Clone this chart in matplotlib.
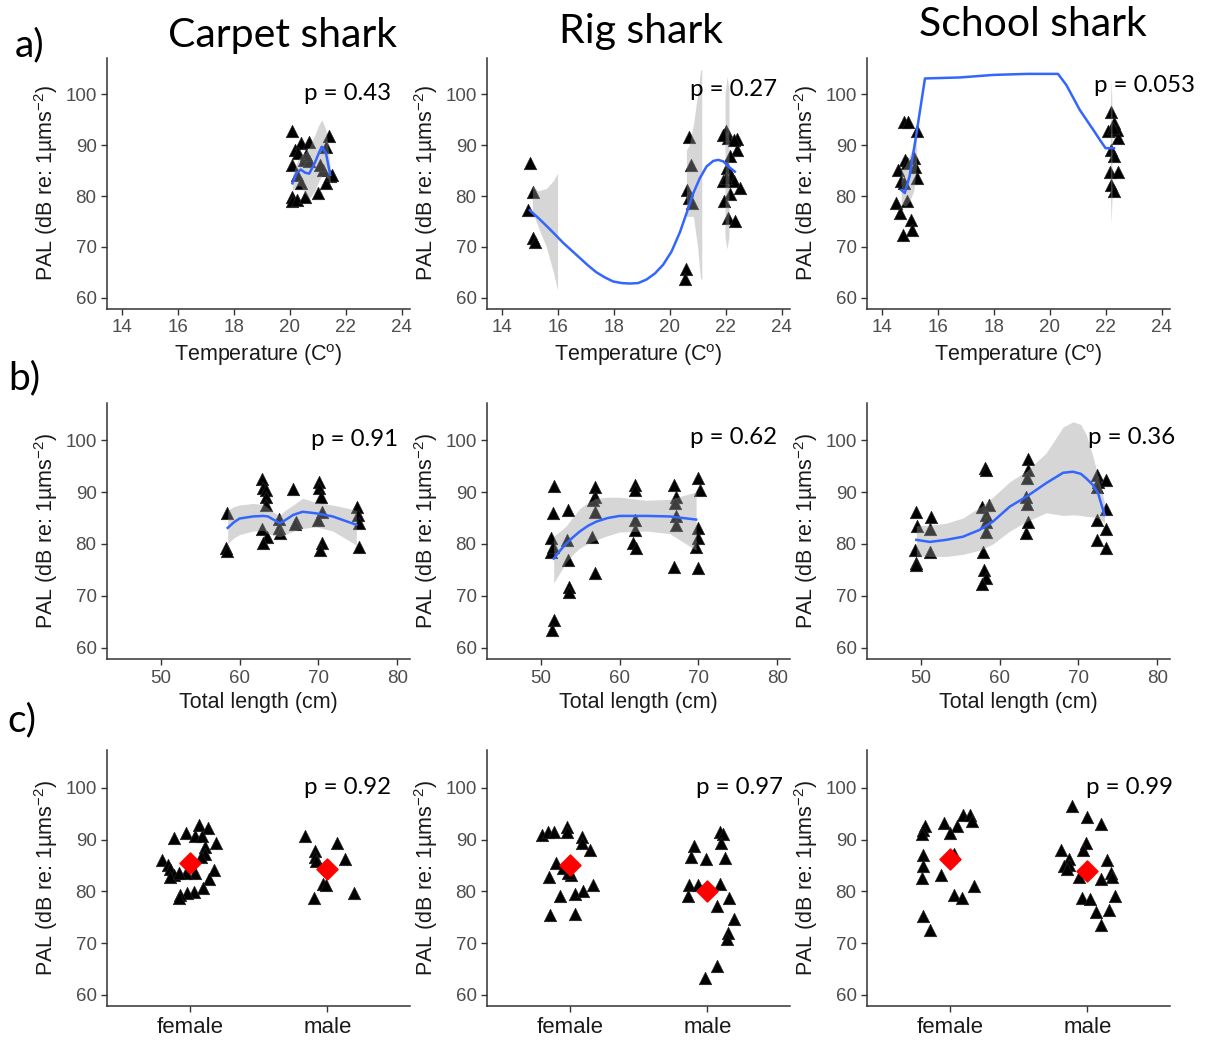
import numpy as np
import matplotlib
matplotlib.use('Agg')
import matplotlib.pyplot as plt

plt.rcParams['font.family'] = ['Liberation Sans', 'DejaVu Sans']
plt.rcParams['mathtext.fontset'] = 'custom'
plt.rcParams['mathtext.rm'] = 'Liberation Sans'
plt.rcParams['mathtext.it'] = 'Liberation Sans:italic'

# ---------------------------------------------------------------- data
species = ['Carpet shark', 'Rig shark', 'School shark']
row_tags = ['a)', 'b)', 'c)']
sex_labels = ['female', 'male']

# row a: PAL vs temperature
carpet_temp_x = [20.07, 20.2, 20.4, 20.7, 20.1, 20.5, 20.7, 20.25, 20.4, 20.1, 20.1, 20.25, 20.55,
                 21.4, 21.3, 21.2, 21.45, 21.3, 21.5, 21.1, 20.6, 20.3, 21.0]
carpet_temp_y = [92.7, 89.1, 90.4, 90.7, 86.1, 87.1, 86.8, 84.2, 82.5, 79.9, 79.0, 79.3, 79.9,
                 91.7, 89.7, 85.2, 83.9, 82.5, 84.2, 86.1, 88.0, 88.5, 80.5]
carpet_temp_fit_x = [20.1, 20.25, 20.4, 20.55, 20.7, 20.9, 21.05, 21.15, 21.3, 21.45]
carpet_temp_fit = [82.5, 84.5, 85.2, 84.6, 84.4, 86.5, 88.5, 89.7, 88.4, 84.2]
carpet_temp_hi = [84.0, 86.5, 88.0, 88.5, 89.5, 92.0, 94.0, 95.0, 93.0, 86.0]
carpet_temp_lo = [81.0, 82.0, 82.0, 80.5, 79.5, 81.0, 83.0, 84.0, 84.0, 82.5]

rig_temp_x = [15.01, 15.13, 14.95, 15.13, 15.2, 20.7, 20.75, 20.63, 20.7, 20.8, 20.6, 20.55,
              22.0, 22.1, 22.4, 22.4, 22.15, 22.05, 22.2, 21.92, 22.3, 22.15, 22.5, 21.95,
              22.1, 22.35, 22.0, 22.3, 21.9]
rig_temp_y = [86.5, 80.7, 77.2, 71.8, 70.9, 91.6, 86.1, 81.2, 79.6, 78.6, 65.7, 63.6,
              92.7, 91.4, 91.2, 89.1, 87.8, 85.5, 83.9, 82.9, 82.9, 80.3, 81.6, 79.0,
              75.7, 75.1, 83.5, 91.0, 91.9]
rig_temp_fit_x = [15.01, 15.31, 15.61, 15.90, 16.20, 16.50, 16.80, 17.10, 17.39, 17.69, 17.99,
                  18.29, 18.58, 18.88, 19.18, 19.48, 19.77, 20.07, 20.37, 20.61, 20.85, 21.08,
                  21.32, 21.56, 21.74, 21.92, 22.10, 22.33]
rig_temp_fit = [77.2, 75.7, 74.1, 72.5, 70.8, 69.3, 67.8, 66.3, 65.0, 64.0, 63.2,
                62.9, 62.8, 62.9, 63.6, 64.8, 66.5, 69.1, 72.9, 76.7, 80.6, 83.5,
                85.8, 86.9, 87.1, 86.8, 85.8, 84.8]
# ribbon is clipped by the y limits, so only three pieces remain
rig_temp_band_x = [[15.1, 15.3, 15.6, 15.85, 16.0],
                   [20.6, 20.7, 20.85, 21.0, 21.1, 21.15],
                   [21.98, 22.05, 22.12]]
rig_temp_band_hi = [[82.0, 81.0, 81.5, 83.0, 84.5],
                    [89.0, 90.0, 94.0, 100.0, 104.5, 105.0],
                    [100.0, 103.5, 101.0]]
rig_temp_band_lo = [[77.0, 74.0, 70.0, 65.0, 61.5],
                    [76.0, 76.0, 76.0, 70.0, 64.0, 63.5],
                    [72.0, 69.6, 72.0]]

school_temp_x = [14.8, 14.95, 15.25, 14.85, 15.15, 14.6, 15.2, 14.7, 15.25, 14.9, 14.5, 14.9,
                 14.65, 15.05, 15.1, 14.75, 14.8,
                 22.2, 22.3, 22.1, 22.4, 22.45, 22.2, 22.3, 22.15, 22.45, 22.2, 22.3, 22.25]
school_temp_y = [94.6, 94.6, 92.7, 87.1, 87.5, 85.2, 85.8, 82.9, 83.5, 86.5, 78.6, 79.0,
                 76.7, 75.2, 73.4, 72.4, 82.5,
                 96.6, 94.3, 92.7, 93.0, 91.4, 89.1, 87.8, 84.8, 84.8, 82.2, 80.9, 93.3]
school_temp_fit_x = [14.7, 14.83, 15.0, 15.25, 15.55, 16.8, 18.0, 19.2, 20.3, 20.6, 21.08,
                     21.56, 21.8, 22.0, 22.3]
school_temp_fit = [81.2, 80.6, 83.9, 92.4, 103.1, 103.3, 103.8, 104.0, 104.0, 101.8, 96.9,
                   93.0, 91.0, 89.4, 89.4]
school_temp_band_x = [[14.7, 14.85, 15.0, 15.15, 15.25], [22.17, 22.2, 22.23]]
school_temp_band_hi = [[85.0, 86.0, 88.0, 90.0, 92.0], [97.0, 103.4, 97.0]]
school_temp_band_lo = [[78.5, 78.0, 79.0, 81.0, 86.0], [80.0, 74.6, 80.0]]

# row b: PAL vs total length
carpet_len_x = [58.45, 58.3, 58.45, 62.85, 63.0, 63.4, 63.3, 63.3, 62.85, 63.5, 63.0, 64.95,
                64.95, 65.1, 66.8, 67.1, 67.0, 70.05, 70.1, 70.3, 70.4, 70.0, 70.5, 70.2,
                74.9, 75.0, 75.1, 75.1]
carpet_len_y = [86.0, 79.2, 78.7, 92.5, 90.7, 90.4, 89.1, 87.5, 82.8, 81.4, 80.1, 84.9,
                83.0, 82.1, 90.5, 84.3, 83.9, 92.0, 90.7, 89.1, 86.2, 84.6, 80.1, 78.8,
                87.2, 85.6, 84.0, 79.5]
carpet_len_fit_x = [58.5, 59.3, 60.0, 61.7, 63.0, 63.6, 64.4, 65.1, 65.8, 66.8, 68.0, 69.7, 71.8, 74.8]
carpet_len_fit = [83.1, 84.2, 84.9, 85.3, 85.4, 85.3, 84.6, 84.0, 84.6, 85.6, 86.2, 85.9, 85.3, 83.7]
carpet_len_hi = [86.5, 87.2, 87.5, 87.8, 87.6, 87.0, 86.0, 85.5, 86.5, 87.5, 88.8, 88.0, 87.5, 86.5]
carpet_len_lo = [80.1, 81.2, 81.8, 82.5, 82.6, 82.0, 81.6, 81.4, 81.8, 82.5, 83.0, 83.3, 82.5, 79.8]

rig_len_x = [51.65, 51.55, 51.35, 51.35, 51.55, 51.65, 51.5, 53.45, 53.3, 53.45, 53.65, 53.6,
             56.85, 56.85, 56.65, 56.85, 56.55, 56.9, 61.9, 61.9, 61.9, 61.9, 61.7, 62.1,
             66.9, 67.1, 67.0, 67.1, 67.1, 66.9, 69.95, 70.15, 69.95, 69.95, 69.75, 69.95]
rig_len_y = [91.2, 85.9, 81.1, 78.5, 79.5, 65.4, 63.5, 86.5, 80.8, 76.9, 71.8, 70.8,
             91.0, 89.1, 88.5, 86.2, 81.4, 74.5, 91.3, 90.4, 84.6, 82.7, 80.1, 79.2,
             91.3, 89.1, 87.8, 85.3, 83.7, 75.6, 92.6, 90.4, 83.0, 81.1, 79.5, 75.3]
rig_len_fit_x = [51.65, 52.5, 53.25, 54.1, 54.95, 56.0, 57.05, 58.5, 60.0, 63.4, 66.35, 69.7]
rig_len_fit = [77.2, 78.8, 80.1, 81.3, 82.4, 83.5, 84.3, 85.0, 85.4, 85.4, 85.3, 84.7]
rig_len_hi = [81.5, 82.5, 83.5, 85.2, 86.8, 88.0, 88.8, 89.0, 89.0, 88.4, 88.6, 90.0]
rig_len_lo = [72.5, 74.6, 76.5, 78.0, 79.2, 80.1, 80.8, 81.6, 82.3, 82.5, 82.0, 78.8]

school_len_x = [49.45, 49.55, 49.25, 49.35, 49.45, 51.35, 51.2, 51.15, 58.1, 58.25, 57.8, 58.65,
                58.3, 58.25, 58.3, 57.9, 58.0, 58.3, 57.8, 63.6, 63.6, 63.5, 63.4, 63.45,
                63.6, 63.4, 72.3, 72.5, 73.55, 72.4, 73.55, 72.4, 73.45, 72.3, 73.55]
school_len_y = [86.2, 83.5, 78.8, 76.3, 76.0, 85.1, 82.8, 78.5, 94.6, 94.2, 87.2, 87.5,
                85.6, 84.3, 82.4, 78.5, 75.0, 73.4, 72.4, 96.3, 94.2, 92.6, 89.1, 87.7,
                84.3, 82.2, 93.3, 92.0, 92.3, 90.9, 86.7, 84.7, 82.8, 80.8, 79.2]
school_len_fit_x = [49.45, 51.15, 53.25, 55.35, 57.45, 59.15, 61.3, 63.4, 65.9, 68.05, 69.3,
                    70.3, 71.0, 71.8, 72.5, 73.3]
school_len_fit = [80.8, 80.4, 80.8, 81.4, 82.7, 84.3, 87.2, 89.1, 91.7, 93.7, 93.9,
                  93.5, 92.6, 91.4, 89.7, 85.6]
school_len_hi = [83.5, 83.6, 84.0, 85.0, 87.0, 89.0, 92.0, 94.0, 97.5, 102.5, 103.5,
                 103.0, 101.0, 97.0, 93.0, 88.0]
school_len_lo = [77.8, 77.6, 77.6, 78.0, 78.8, 80.0, 82.5, 84.3, 86.0, 85.5, 85.6,
                 85.5, 85.3, 85.2, 85.0, 84.0]

# row c: PAL by sex (jittered positions, 1 = female, 2 = male)
carpet_sex_x = [0.80, 0.84, 0.86, 0.89, 0.97, 1.07, 1.13, 1.04, 1.09, 1.19, 1.11, 1.11, 1.08,
                1.18, 1.14, 1.04, 0.97, 0.89, 0.86, 1.10, 1.03, 0.98, 0.93, 0.92, 0.92,
                1.84, 2.07, 1.91, 1.91, 1.92, 2.13, 1.97, 1.99, 1.90, 2.19]
carpet_sex_y = [86.0, 85.1, 84.4, 90.2, 91.3, 92.8, 92.3, 90.7, 90.7, 89.4, 88.5, 87.3, 86.6,
                84.2, 82.3, 83.6, 83.6, 83.2, 82.8, 80.6, 79.9, 79.7, 79.3, 78.8, 83.5,
                90.7, 89.4, 87.7, 86.7, 85.9, 86.2, 81.5, 81.2, 78.8, 79.6]
carpet_sex_mean = [85.4, 84.4]

rig_sex_x = [0.80, 0.84, 0.89, 0.98, 0.98, 1.09, 1.09, 1.15, 0.90, 0.95, 1.01, 0.85, 0.93,
             1.04, 1.10, 1.17, 0.86, 1.04, 0.99,
             1.90, 1.88, 1.99, 2.09, 2.11, 2.10, 2.13, 1.87, 1.93, 2.09, 1.86, 2.07, 2.16,
             2.19, 2.15, 2.14, 2.07, 1.98]
rig_sex_y = [90.9, 91.5, 91.5, 92.5, 91.5, 90.4, 89.4, 88.0, 85.4, 84.6, 83.2, 82.8, 79.1,
             79.5, 80.1, 81.2, 75.4, 75.6, 83.5,
             88.7, 86.7, 86.2, 91.5, 91.1, 89.4, 86.4, 81.2, 81.2, 81.5, 79.1, 77.2, 78.8,
             74.6, 72.0, 70.8, 65.6, 63.3]
rig_sex_mean = [85.1, 80.1]

school_sex_x = [0.82, 0.81, 0.80, 0.96, 1.05, 1.00, 1.10, 1.15, 1.16, 0.81, 0.81, 0.80, 1.03,
                0.94, 1.03, 1.09, 1.18, 0.81, 0.86,
                1.89, 2.00, 2.10, 1.99, 1.97, 1.81, 1.87, 1.83, 1.87, 2.14, 1.94, 2.10, 2.17,
                2.18, 1.96, 2.02, 2.20, 2.06, 2.16, 2.10, 1.85]
school_sex_y = [92.6, 91.8, 91.0, 93.2, 92.6, 91.2, 94.7, 94.7, 93.6, 87.0, 84.8, 82.5, 87.2,
                83.2, 79.3, 78.8, 81.0, 75.3, 72.5,
                96.5, 94.4, 93.0, 89.4, 88.0, 88.0, 86.2, 84.8, 85.1, 86.0, 82.7, 82.3, 83.5,
                82.7, 78.8, 78.6, 79.1, 76.1, 76.4, 73.5, 84.4]
school_sex_mean = [86.2, 84.0]

p_values = [['p = 0.43', 'p = 0.27', 'p = 0.053'],
            ['p = 0.91', 'p = 0.62', 'p = 0.36'],
            ['p = 0.92', 'p = 0.97', 'p = 0.99']]

# ---------------------------------------------------------------- layout (pixels)
W, H = 1205, 1041
col_left = [107, 487, 867]
col_width = 303
row_top = [57.6, 402.6, 750.4]
row_bottom = [309, 659.4, 1006.4]
p_pos = [[(348, 93), (734, 90), (1144, 86)],
         [(355, 440), (734, 438), (1132, 438)],
         [(348, 788), (739, 788), (1129, 788)]]
title_pos = [(283, 36), (641, 31), (1033, 25)]
tag_pos = [(30, 45), (24, 378), (22, 720)]

BLUE = '#3366FF'
YLAB = 'PAL (dB re: 1µms$^{-2}$)'


# =================================================================================================
def style_axes(ax):
    for side in ['top', 'right']:
        ax.spines[side].set_visible(False)
    for side in ['left', 'bottom']:
        ax.spines[side].set_color('#333333')
        ax.spines[side].set_linewidth(1.1)
    ax.tick_params(colors='#333333', labelcolor='#4D4D4D', labelsize=13.5, length=4, width=1)
    ax.set_ylim(57.8, 107.2)
    ax.set_yticks([60, 70, 80, 90, 100])
    ax.set_ylabel(YLAB, fontsize=15.5, color='#1A1A1A', labelpad=4)


def draw_points(ax, x, y):
    ax.scatter(x, y, marker='^', s=80, color='black', edgecolors='#222222', linewidths=0.5,
               zorder=3)


def draw_band(ax, x, lo, hi):
    # ggplot ribbon: grey60 with alpha 0.4 drawn over the points
    ax.fill_between(x, lo, hi, color='#999999', alpha=0.4, lw=0, zorder=4)


fig = plt.figure(figsize=(W / 100, H / 100), dpi=100)
axes = []
for r in range(3):
    row = []
    for c in range(3):
        ax = fig.add_axes([col_left[c] / W, 1 - row_bottom[r] / H,
                           col_width / W, (row_bottom[r] - row_top[r]) / H])
        style_axes(ax)
        row.append(ax)
    axes.append(row)

# [1] temperature row
temp_sets = [(carpet_temp_x, carpet_temp_y), (rig_temp_x, rig_temp_y), (school_temp_x, school_temp_y)]
ax = axes[0][0]
draw_band(ax, carpet_temp_fit_x, carpet_temp_lo, carpet_temp_hi)
ax.plot(carpet_temp_fit_x, carpet_temp_fit, color=BLUE, lw=1.8, zorder=5)
ax = axes[0][1]
for bx, lo, hi in zip(rig_temp_band_x, rig_temp_band_lo, rig_temp_band_hi):
    draw_band(ax, bx, lo, hi)
ax.plot(rig_temp_fit_x, rig_temp_fit, color=BLUE, lw=1.8, zorder=5)
ax = axes[0][2]
for bx, lo, hi in zip(school_temp_band_x, school_temp_band_lo, school_temp_band_hi):
    draw_band(ax, bx, lo, hi)
ax.plot(school_temp_fit_x, school_temp_fit, color=BLUE, lw=1.8, zorder=5)
for c in range(3):
    ax = axes[0][c]
    draw_points(ax, *temp_sets[c])
    ax.set_xlim(13.48, 24.3)
    ax.set_xticks([14, 16, 18, 20, 22, 24])
    ax.set_xlabel('Temperature (C$^{\\mathrm{o}}$)', fontsize=15.5, color='#1A1A1A', labelpad=4)

# [2] length row
len_sets = [(carpet_len_x, carpet_len_y, carpet_len_fit_x, carpet_len_fit, carpet_len_lo, carpet_len_hi),
            (rig_len_x, rig_len_y, rig_len_fit_x, rig_len_fit, rig_len_lo, rig_len_hi),
            (school_len_x, school_len_y, school_len_fit_x, school_len_fit, school_len_lo, school_len_hi)]
for c in range(3):
    ax = axes[1][c]
    px, py, fx, fy, lo, hi = len_sets[c]
    draw_points(ax, px, py)
    draw_band(ax, fx, lo, hi)
    ax.plot(fx, fy, color=BLUE, lw=1.8, zorder=5)
    ax.set_xlim(43.2, 81.6)
    ax.set_xticks([50, 60, 70, 80])
    ax.set_xlabel('Total length (cm)', fontsize=15.5, color='#1A1A1A', labelpad=4)

# [3] sex row
sex_sets = [(carpet_sex_x, carpet_sex_y, carpet_sex_mean),
            (rig_sex_x, rig_sex_y, rig_sex_mean),
            (school_sex_x, school_sex_y, school_sex_mean)]
for c in range(3):
    ax = axes[2][c]
    px, py, means = sex_sets[c]
    draw_points(ax, px, py)
    ax.scatter([1, 2], means, marker='D', s=115, color='red', zorder=6)
    ax.set_xlim(0.4, 2.6)
    ax.set_xticks([1, 2])
    ax.set_xticklabels(sex_labels, fontsize=16, color='#1A1A1A')

# overlay texts
for r in range(3):
    for c in range(3):
        x, y = p_pos[r][c]
        fig.text(x / W, 1 - y / H, p_values[r][c], fontsize=17.3, family='Lato',
                 ha='center', va='center')
for c in range(3):
    x, y = title_pos[c]
    fig.text(x / W, 1 - y / H, species[c], fontsize=29.5, family='Lato', ha='center', va='center')
for r in range(3):
    x, y = tag_pos[r]
    fig.text(x / W, 1 - y / H, row_tags[r], fontsize=28, family='Lato', ha='center', va='center')

fig.savefig('out.png', dpi=100)
